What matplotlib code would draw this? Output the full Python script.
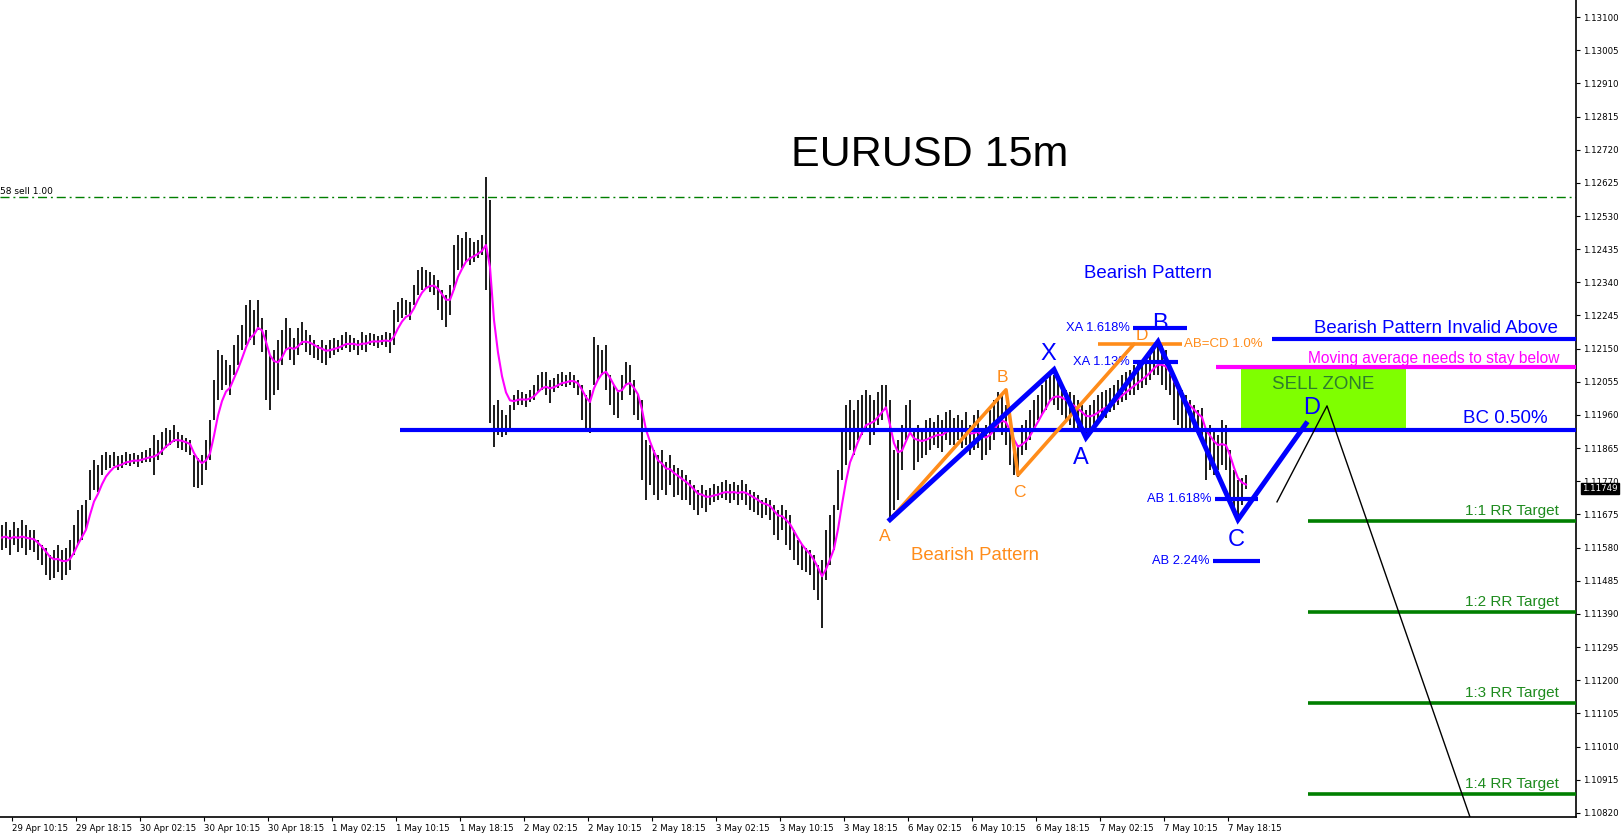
import numpy as np
import pandas as pd
import matplotlib.pyplot as plt
from matplotlib.patches import Rectangle

# prices kept in points (1e-5) above 1.10000, one bar = 30 minutes
BASE = 1.1
PT = 1e-5

high_pts = [
    1645, 1653, 1630, 1653, 1636, 1659, 1645, 1630, 1630, 1602,
    1588, 1579, 1559, 1573, 1588, 1573, 1579, 1602,
    1645, 1688, 1702, 1716, 1802, 1831, 1817,
    1845, 1854, 1845, 1854, 1843,
    1845, 1854, 1848, 1851, 1845, 1854, 1860, 1865, 1903,
    1888, 1911, 1923, 1917, 1931, 1911, 1903, 1894, 1888,
    1845, 1837, 1845, 1888, 1946,
    2060, 2146, 2132, 2118, 2103, 2161, 2189, 2218, 2275, 2290,
    2261, 2290, 2238, 2204, 2132, 2146,
    2175, 2204, 2238, 2209, 2181, 2209, 2227,
    2204, 2189, 2175, 2161, 2175, 2161, 2175,
    2181, 2175, 2189, 2198, 2189, 2181, 2175,
    2198, 2189, 2195, 2192, 2186, 2189, 2198, 2195, 2261,
    2284, 2295, 2290, 2284, 2332, 2375, 2384, 2375, 2370, 2361,
    2347, 2318, 2304, 2332, 2447, 2476, 2467,
    2484, 2467, 2456, 2461, 2476, 2642, 2576,
    1989, 2003, 1974, 1960, 1989,
    2017, 2032, 2026, 2020, 2032, 2046, 2075, 2083, 2083, 2060,
    2066, 2077, 2083, 2075, 2083, 2075, 2060, 2046, 2017, 2032,
    2184, 2161, 2146, 2161, 2075, 2046, 2032, 2075, 2112, 2103,
    2060, 2017, 2003, 1888, 1874, 1860,
    1845, 1860, 1825, 1845, 1817, 1808, 1802, 1788,
    1774, 1759, 1745, 1759, 1745,
    1751, 1762, 1757, 1768, 1774, 1762, 1768, 1759, 1774, 1762,
    1745, 1739, 1731, 1716, 1722, 1716,
    1702, 1688, 1702, 1688, 1674, 1630, 1602, 1588, 1579, 1573,
    1559, 1530, 1545, 1630, 1674, 1702,
    1802, 1917, 1989, 2003,
    1974, 2003, 2017, 2032, 2017, 2003, 2026, 2046, 2046, 2003,
    1860, 1888, 1931, 1989, 2003,
    1917, 1931, 1923, 1946, 1951, 1940, 1960, 1946, 1969, 1974,
    1951, 1960, 1946, 1969, 1931, 1960, 1974, 1917, 1931, 1974,
    2003, 2026, 2017, 1989, 1917, 1888, 1874, 1931, 1946, 1974,
    2003, 2017, 2046, 2060, 2083,
    2075, 2060, 2046, 2032, 2026, 2017, 2003, 1989, 1974, 1989,
    2003, 2017, 2026, 2032, 2037, 2046,
    2060, 2075, 2083, 2089, 2103, 2112, 2118, 2132, 2146, 2161,
    2175, 2161, 2146, 2089, 2060, 2046, 2032, 2017,
    2003, 1989, 1974, 1980,
    1917, 1931, 1917, 1903, 1946, 1931, 1860, 1802, 1774, 1779, 1788,
]

low_pts = [
    1573, 1579, 1559, 1588, 1568, 1579, 1559, 1573, 1568, 1545,
    1530, 1502, 1487, 1493, 1510, 1487, 1502, 1516,
    1559, 1588, 1602, 1630, 1716, 1745, 1739,
    1788, 1802, 1808, 1814, 1802,
    1808, 1817, 1814, 1820, 1811, 1822, 1825, 1825, 1788,
    1831, 1845, 1865, 1874, 1883, 1865, 1860, 1854, 1845,
    1754, 1751, 1759, 1802, 1831,
    1946, 2003, 2032, 2046, 2017, 2075, 2103, 2146, 2161, 2175,
    2161, 2204, 2141, 2003, 1974, 2017,
    2032, 2103, 2146, 2118, 2103, 2132, 2161,
    2141, 2132, 2123, 2118, 2109, 2103, 2123,
    2132, 2141, 2146, 2152, 2141, 2146, 2132,
    2146, 2141, 2161, 2158, 2152, 2161, 2155, 2138, 2161,
    2227, 2238, 2247, 2232, 2275, 2304, 2318, 2324, 2312, 2304,
    2261, 2232, 2212, 2247, 2318, 2375, 2381,
    2398, 2390, 2398, 2410, 2418, 2318, 1937,
    1868, 1903, 1897, 1903, 1923,
    1974, 1989, 1989, 1983, 1997, 2003, 2026, 2032, 2017, 1994,
    2026, 2037, 2043, 2040, 2046, 2037, 2017, 1946, 1917, 1908,
    2046, 2060, 2075, 2032, 1989, 1960, 1951, 2003, 2046, 2017,
    1960, 1946, 1774, 1716, 1759, 1731,
    1716, 1745, 1731, 1759, 1725, 1731, 1716, 1716,
    1702, 1688, 1674, 1694, 1682,
    1702, 1711, 1716, 1722, 1716, 1708, 1716, 1702, 1716, 1702,
    1688, 1682, 1674, 1665, 1674, 1659,
    1616, 1602, 1630, 1588, 1573, 1545, 1530, 1516, 1510, 1502,
    1459, 1430, 1350, 1487, 1530, 1573,
    1688, 1774, 1817, 1860,
    1845, 1888, 1903, 1917, 1874, 1903, 1931, 1946, 1974, 1659,
    1688, 1716, 1802, 1888, 1917,
    1802, 1825, 1837, 1845, 1860, 1874, 1865, 1854, 1888, 1874,
    1874, 1888, 1865, 1874, 1845, 1860, 1865, 1831, 1845, 1860,
    1888, 1917, 1903, 1874, 1817, 1788, 1782, 1845, 1860, 1888,
    1917, 1946, 1960, 1974, 2003,
    1989, 1974, 1960, 1946, 1931, 1923, 1917, 1911, 1897, 1917,
    1931, 1946, 1960, 1951, 1969, 1974,
    1989, 1997, 2003, 2017, 2017, 2032, 2037, 2046, 2060, 2075,
    2075, 2046, 2032, 2017, 1946, 1931, 1923, 1917,
    1923, 1917, 1903, 1888,
    1774, 1802, 1788, 1802, 1817, 1802, 1716, 1674, 1665, 1702, 1749,
]
last_close_pts = 1749

time_labels = ['29 Apr 10:15', '29 Apr 18:15', '30 Apr 02:15', '30 Apr 10:15',
               '30 Apr 18:15', '1 May 02:15', '1 May 10:15', '1 May 18:15',
               '2 May 02:15', '2 May 10:15', '2 May 18:15', '3 May 02:15',
               '3 May 10:15', '3 May 18:15', '6 May 02:15', '6 May 10:15',
               '6 May 18:15', '7 May 02:15', '7 May 10:15', '7 May 18:15']
first_label_bar = 2.5   # first bar opens 29 Apr 09:00
bars_per_label = 16     # 8 hours of 30 minute bars

ytick_pts = [820, 915, 1010, 1105, 1200, 1295, 1390, 1485, 1580, 1675, 1770, 1865,
             1960, 2055, 2150, 2245, 2340, 2435, 2530, 2625, 2720, 2815, 2910, 3005, 3100]

# harmonic patterns: bar index, price points
blue_idx = [222, 263, 271, 289, 309, 326]
blue_pts = [1660, 2090, 1895, 2170, 1660, 1935]
blue_names = ['', 'X', 'A', 'B', 'C', 'D']
orange_idx = [222, 251, 254, 283]
orange_pts = [1660, 2032, 1788, 2163]
orange_names = ['A', 'B', 'C', 'D']

fib_names = ['XA 1.618%', 'XA 1.13%', 'AB 1.618%', 'AB 2.24%']
fib_pts = [2209, 2112, 1719, 1542]
fib_start = [282.75, 282.75, 303.25, 302.75]
fib_end = [296.25, 294, 314, 314.5]
abcd_pts, abcd_start, abcd_end = 2163, 274, 295

entry_pts, entry_start = 1917, 99.5      # BC 0.50%
stop_pts, stop_start = 2178, 317.5       # invalid above
ma_level_pts, ma_level_start = 2098, 303.5
zone_x0, zone_x1, zone_lo, zone_hi = 309.75, 351, 1920, 2092
rr_start = 326.5
rr_names = ['1:1 RR Target', '1:2 RR Target', '1:3 RR Target', '1:4 RR Target']
sell_order_pts = 2585

proj_idx = [318.75, 331.25, 370]
proj_pts = [1711, 1986, 709]

BLUE = '#0000FF'
ORANGE = '#FF8C1A'
GREEN = '#007F00'
XMIN, XMAX = -0.5, 393.5
TXT = 'Liberation Sans'


def px(p):
    return BASE + np.asarray(p, dtype=float) * PT


fig = plt.figure(figsize=(16.22, 8.39), dpi=100)
ax = fig.add_axes([0, 22 / 839, 1576 / 1622, 817 / 839])
ax.set_xlim(XMIN, XMAX)
ax.set_ylim(1.10808, 1.13149)

idx = np.arange(len(high_pts))
hi = px(high_pts)
lo = px(low_pts)
ax.vlines(idx, lo, hi, color='black', lw=1.25, zorder=2)

mid = (hi + lo) / 2
mid[-1] = px(last_close_pts)
ma = pd.Series(mid).ewm(span=5, adjust=False).mean()
ax.plot(idx, ma, color='#FF00FF', lw=1.5, zorder=3)

# order line
ax.axhline(px(sell_order_pts), color=GREEN, lw=1, dashes=(6.5, 2.8, 1.4, 2.8), zorder=1)
ax.annotate('58 sell 1.00', (XMIN, px(sell_order_pts)), xytext=(0, 1), textcoords='offset pixels',
            ha='left', va='bottom', fontsize=6.5, color='black')

# sell zone
ax.add_patch(Rectangle((zone_x0, px(zone_lo)), zone_x1 - zone_x0, px(zone_hi) - px(zone_lo),
                       color='#7FFF00', lw=0, zorder=1.5))
ax.text((zone_x0 + zone_x1) / 2, px(zone_hi) - 20 * PT, 'SELL ZONE', family=TXT, fontsize=13.5,
        color='#2E7D2E', ha='center', va='top', zorder=5)

# key levels
ax.hlines(px(entry_pts), entry_start, XMAX, color=BLUE, lw=3, zorder=4)
ax.annotate('BC 0.50%', (375.75, px(entry_pts)), xytext=(0, 3), textcoords='offset pixels',
            ha='center', va='bottom', family=TXT, fontsize=13.5, color=BLUE)
ax.hlines(px(stop_pts), stop_start, XMAX, color=BLUE, lw=3, zorder=4)
ax.annotate('Bearish Pattern Invalid Above', (358.5, px(stop_pts)), xytext=(0, 2),
            textcoords='offset pixels', ha='center', va='bottom', family=TXT, fontsize=13.4, color=BLUE)
ax.hlines(px(ma_level_pts), ma_level_start, XMAX, color='#FF00FF', lw=3, zorder=4)
ax.annotate('Moving average needs to stay below', (358, px(ma_level_pts)), xytext=(0, 1),
            textcoords='offset pixels', ha='center', va='bottom', family=TXT, fontsize=11.2, color='#FF00FF')

risk = stop_pts - entry_pts
for k, name in enumerate(rr_names, start=1):
    lvl = px(entry_pts - k * risk)
    ax.hlines(lvl, rr_start, XMAX, color=GREEN, lw=2.6, zorder=4)
    ax.annotate(name, (377.5, lvl), xytext=(0, 3), textcoords='offset pixels',
                ha='center', va='bottom', family=TXT, fontsize=11, color='#1E8B1E')

# projection path
ax.plot(proj_idx, px(proj_pts), color='black', lw=1.0, zorder=4)

# orange pattern
ax.plot(orange_idx, px(orange_pts), color=ORANGE, lw=2.6, zorder=5, solid_capstyle='round')
ax.hlines(px(abcd_pts), abcd_start, abcd_end, color=ORANGE, lw=2.6, zorder=5)
ax.annotate('AB=CD 1.0%', (abcd_end, px(abcd_pts)), xytext=(2, 0), textcoords='offset pixels',
            ha='left', va='center', family=TXT, fontsize=9.5, color=ORANGE)
orange_off = [(-5, -17), (-4, 12), (1, -18), (8, 9)]
for i, p, n, off in zip(orange_idx, orange_pts, orange_names, orange_off):
    ax.annotate(n, (i, px(p)), xytext=off, textcoords='offset pixels', ha='center', va='center',
                family=TXT, fontsize=12.5, color=ORANGE, zorder=6)

# blue pattern
ax.plot(blue_idx, px(blue_pts), color=BLUE, lw=3.6, zorder=6, solid_joinstyle='miter')
blue_off = [(0, 0), (-6, 16), (-5, -20), (2, 18), (-2, -20), (6, 16)]
for i, p, n, off in zip(blue_idx, blue_pts, blue_names, blue_off):
    if n:
        ax.annotate(n, (i, px(p)), xytext=off, textcoords='offset pixels', ha='center', va='center',
                    family=TXT, fontsize=17, color=BLUE, zorder=7)
for name, p, s, e in zip(fib_names, fib_pts, fib_start, fib_end):
    ax.hlines(px(p), s, e, color=BLUE, lw=3, zorder=6)
    ax.annotate(name, (s, px(p)), xytext=(-3, 0), textcoords='offset pixels',
                ha='right', va='center', family=TXT, fontsize=9.3, color=BLUE, zorder=4)

# titles
ax.text(232, px(2705), 'EURUSD 15m', family=TXT, fontsize=31, ha='center', va='center')
ax.text(286.5, px(2364), 'Bearish Pattern', family=TXT, fontsize=13.4, color=BLUE,
        ha='center', va='center')
ax.text(243.25, px(1556), 'Bearish Pattern', family=TXT, fontsize=13.4, color=ORANGE,
        ha='center', va='center')

# axes styling
for side in ['left', 'top']:
    ax.spines[side].set_visible(False)
for side in ['right', 'bottom']:
    ax.spines[side].set_linewidth(1.2)
ax.yaxis.tick_right()
ax.set_yticks(px(ytick_pts))
ax.set_yticklabels([f'{v:.5f}' for v in px(ytick_pts)])
ax.set_xticks([first_label_bar + bars_per_label * k for k in range(len(time_labels))])
ax.set_xticklabels(time_labels)
ax.tick_params(axis='both', labelsize=6.2, length=3, width=0.8, pad=2)
for lab in ax.get_xticklabels():
    lab.set_horizontalalignment('left')

ax.annotate(f'{px(last_close_pts):.5f}', (1, px(last_close_pts)), xycoords=('axes fraction', 'data'),
            xytext=(6, 0), textcoords='offset pixels', ha='left', va='center', fontsize=6.2,
            color='white', bbox=dict(boxstyle='square,pad=0.15', fc='black', ec='black'),
            annotation_clip=False)

fig.savefig('out.png', dpi=100)
